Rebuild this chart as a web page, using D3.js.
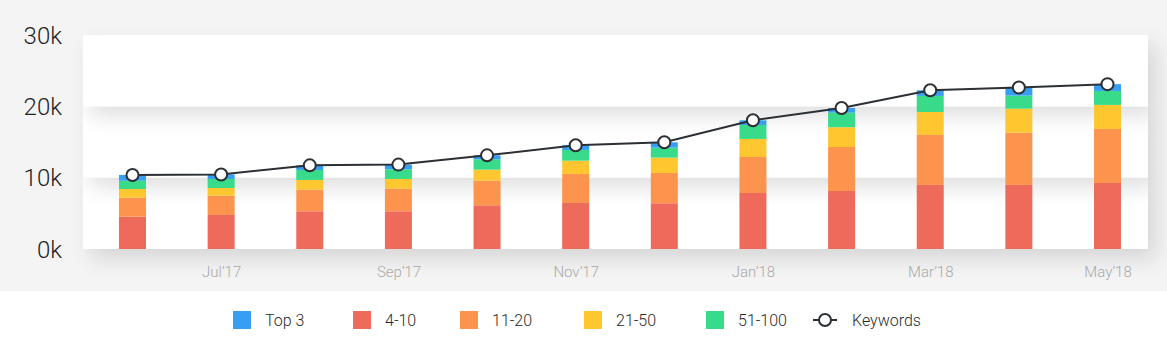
<!DOCTYPE html>
<html>
<head>
<meta charset="utf-8">
<script src="https://cdn.jsdelivr.net/npm/d3@7/dist/d3.min.js"></script>
<style>
  html, body { margin: 0; padding: 0; background: #ffffff; }
  svg { display: block; font-family: Roboto, "Noto Sans", sans-serif; }
</style>
</head>
<body>
<svg id="chart" width="1167" height="350"></svg>
<script>
// Monthly keyword counts per ranking bucket
const months = ["Jun’17", "Jul’17", "Aug’17", "Sep’17", "Oct’17", "Nov’17",
                "Dec’17", "Jan’18", "Feb’18", "Mar’18", "Apr’18", "May’18"];
const shownMonths = ["Jul’17", "Sep’17", "Nov’17", "Jan’18", "Mar’18", "May’18"];
const pos4to10   = [4530, 4770, 5290, 5290, 6130, 6450, 6410, 7850, 8130, 8980, 8980, 9260];
const pos11to20  = [2665, 2705, 3030, 3170, 3450, 4070, 4250, 5050, 6170, 7010, 7330, 7570];
const pos21to50  = [1220, 1080, 1360, 1360, 1540, 1860, 2150, 2530, 2770, 3220, 3370, 3370];
const pos51to100 = [1165, 1265, 1400, 1360, 1460, 1505, 1400, 1960, 2050, 2250, 1820, 1960];
const top3       = [ 800,  630,  650,  650,  550,  650,  750,  650,  640,  790, 1150, 950];
const yTicks = [0, 10000, 20000, 30000];

const seriesNames  = ["4-10", "11-20", "21-50", "51-100", "Top 3"];
const seriesValues = [pos4to10, pos11to20, pos21to50, pos51to100, top3];
const colors = {"Top 3": "#379ff1", "4-10": "#ee6a5a", "11-20": "#fd944e", "21-50": "#fec62f", "51-100": "#38db8a"};

const rows = months.map((m, i) => {
  const r = {month: m};
  seriesNames.forEach((s, k) => r[s] = seriesValues[k][i]);
  return r;
});
const stacked = d3.stack().keys(seriesNames)(rows);
const totals = rows.map(r => seriesNames.reduce((a, s) => a + r[s], 0));

const svg = d3.select("#chart");

// Backgrounds
svg.append("rect").attr("x", 0).attr("y", 0).attr("width", 1167).attr("height", 291).attr("fill", "#f4f4f4");

const plot = {left: 83, right: 1148, top: 35, bottom: 249};
const y = d3.scaleLinear().domain([0, 30000]).range([plot.bottom, plot.top]);
const x = d3.scalePoint().domain(months).range([132.5, 1107.5]);
const barW = 27;

const defs = svg.append("defs");
const f = defs.append("filter").attr("id", "cardShadow")
  .attr("x", "-10%").attr("y", "-30%").attr("width", "130%").attr("height", "200%");
f.append("feDropShadow").attr("dx", 8).attr("dy", 10).attr("stdDeviation", 10)
  .attr("flood-color", "#000").attr("flood-opacity", 0.12);

// Stacked white cards, one per 10k band, each shading the one beneath
const bands = d3.range(yTicks.length - 1);
svg.append("g").selectAll("rect").data(bands).join("rect")
  .attr("x", plot.left)
  .attr("y", i => y(yTicks[i + 1]))
  .attr("width", plot.right - plot.left)
  .attr("height", i => y(yTicks[i]) - y(yTicks[i + 1]))
  .attr("fill", "#ffffff")
  .attr("filter", "url(#cardShadow)");

// Y axis
const yAxis = svg.append("g").attr("transform", "translate(62,0)")
  .call(d3.axisLeft(y).tickValues(yTicks).tickSize(0).tickPadding(0)
    .tickFormat(d => (d / 1000) + "k"));
yAxis.select(".domain").remove();
yAxis.selectAll("text").attr("font-size", 24).attr("font-weight", 300)
  .attr("fill", "#1f1f1f").attr("font-family", "Roboto, sans-serif").attr("dy", "0.34em");

// X axis
const xAxis = svg.append("g").attr("transform", `translate(0,${plot.bottom})`)
  .call(d3.axisBottom(x).tickValues(shownMonths).tickSize(0).tickPadding(17));
xAxis.select(".domain").remove();
xAxis.selectAll("text").attr("font-size", 15).attr("font-weight", 300)
  .attr("fill", "#a9a9a9").attr("font-family", "Roboto, sans-serif");

// Bars
svg.append("g").selectAll("g").data(stacked).join("g")
  .attr("fill", d => colors[d.key])
  .selectAll("rect").data(d => d).join("rect")
  .attr("x", d => x(d.data.month) - barW / 2)
  .attr("y", d => y(d[1]))
  .attr("width", barW)
  .attr("height", d => y(d[0]) - y(d[1]));

// Keywords total line
const line = d3.line().x((d, i) => x(months[i])).y(d => y(d));
svg.append("path").datum(totals).attr("d", line)
  .attr("fill", "none").attr("stroke", "#2c3035").attr("stroke-width", 2);
svg.append("g").selectAll("circle").data(totals).join("circle")
  .attr("cx", (d, i) => x(months[i])).attr("cy", d => y(d)).attr("r", 6)
  .attr("fill", "#ffffff").attr("stroke", "#2c3035").attr("stroke-width", 2);

// Legend
const legendItems = [
  {name: "Top 3", x: 233}, {name: "4-10", x: 353}, {name: "11-20", x: 460},
  {name: "21-50", x: 584}, {name: "51-100", x: 706}
];
const lg = svg.append("g");
legendItems.forEach(it => {
  lg.append("rect").attr("x", it.x).attr("y", 311).attr("width", 18).attr("height", 18)
    .attr("fill", colors[it.name]);
  lg.append("text").attr("x", it.x + 32).attr("y", 320).attr("dy", "0.35em")
    .attr("font-size", 16).attr("font-weight", 300).attr("fill", "#2a2a2a").text(it.name);
});
lg.append("line").attr("x1", 813).attr("x2", 837).attr("y1", 320).attr("y2", 320)
  .attr("stroke", "#2c3035").attr("stroke-width", 2);
lg.append("circle").attr("cx", 825).attr("cy", 320).attr("r", 6)
  .attr("fill", "#fff").attr("stroke", "#2c3035").attr("stroke-width", 2);
lg.append("text").attr("x", 852).attr("y", 320).attr("dy", "0.35em")
  .attr("font-size", 16).attr("font-weight", 300).attr("fill", "#2a2a2a").text("Keywords");
</script>
</body>
</html>
